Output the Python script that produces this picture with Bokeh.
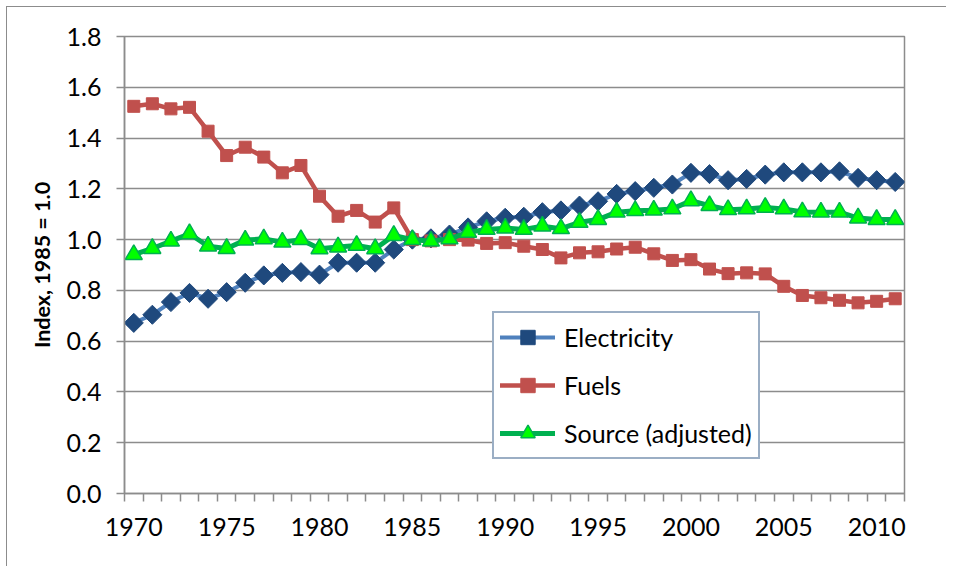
from math import pi
from bokeh.plotting import figure
from bokeh.models import Range1d, FixedTicker, Legend, LegendItem
from bokeh.embed import file_html
from bokeh.resources import INLINE

years = list(range(1970, 2012))

electricity = [0.672, 0.704, 0.754, 0.790, 0.767, 0.793, 0.830, 0.859, 0.869, 0.872,
               0.862, 0.909, 0.909, 0.909, 0.961, 1.000, 1.005, 1.020, 1.048, 1.072,
               1.086, 1.090, 1.108, 1.115, 1.134, 1.151, 1.180, 1.191, 1.204, 1.217,
               1.263, 1.258, 1.234, 1.239, 1.256, 1.265, 1.265, 1.265, 1.269, 1.243,
               1.234, 1.227]

fuels = [1.525, 1.535, 1.515, 1.521, 1.427, 1.331, 1.364, 1.325, 1.263, 1.292,
         1.171, 1.092, 1.115, 1.069, 1.125, 1.000, 0.995, 1.000, 0.998, 0.985,
         0.988, 0.974, 0.961, 0.928, 0.948, 0.952, 0.963, 0.970, 0.944, 0.918,
         0.921, 0.884, 0.866, 0.869, 0.865, 0.816, 0.780, 0.771, 0.761, 0.751,
         0.757, 0.767]

source = [0.941, 0.965, 0.994, 1.023, 0.974, 0.965, 0.998, 1.003, 0.990, 1.000,
          0.964, 0.971, 0.977, 0.964, 1.016, 1.000, 0.994, 1.003, 1.029, 1.040,
          1.045, 1.040, 1.053, 1.043, 1.068, 1.079, 1.108, 1.114, 1.116, 1.121,
          1.153, 1.134, 1.118, 1.121, 1.127, 1.121, 1.109, 1.108, 1.108, 1.085,
          1.079, 1.079]

x_label_years = [1970, 1975, 1980, 1985, 1990, 1995, 2000, 2005, 2010]
y_ticks = [0.0, 0.2, 0.4, 0.6, 0.8, 1.0, 1.2, 1.4, 1.6, 1.8]
y_labels = ["0.0", "0.2", "0.4", "0.6", "0.8", "1.0", "1.2", "1.4", "1.6", "1.8"]

series_names = ["Electricity", "Fuels", "Source (adjusted)"]

FONT = "Lato"
GRID = "#8C8C8C"

p = figure(width=940, height=560, output_backend="svg", toolbar_location=None,
           x_range=Range1d(years[0] - 0.5, years[-1] + 0.5),
           y_range=Range1d(y_ticks[0], y_ticks[-1]),
           min_border_left=117, min_border_right=43, min_border_top=29,
           min_border_bottom=74,
           styles={"margin-left": "6px", "margin-top": "6px",
                   "border-top": "1px solid #8C8C8C", "border-left": "1px solid #8C8C8C"})

p.background_fill_color = "white"
p.border_fill_color = "white"
p.outline_line_color = GRID
p.outline_line_width = 1.5

# x axis: labels at every 5 years, tick marks between categories
p.xaxis.ticker = FixedTicker(ticks=x_label_years,
                             minor_ticks=[y - 0.5 for y in years] + [years[-1] + 0.5])
p.xaxis.major_tick_out = 0
p.xaxis.major_tick_in = 0
p.xaxis.minor_tick_out = 8
p.xaxis.minor_tick_in = 0
p.xaxis.minor_tick_line_color = GRID
p.xaxis.minor_tick_line_width = 1.5
p.xaxis.axis_line_color = GRID
p.xaxis.axis_line_width = 1.5
p.xaxis.major_label_text_font = FONT
p.xaxis.major_label_text_font_size = "25px"
p.xaxis.major_label_text_color = "black"
p.xaxis.major_label_standoff = 16
p.xgrid.grid_line_color = None

p.yaxis.ticker = FixedTicker(ticks=y_ticks)
p.yaxis.major_label_overrides = {t: l for t, l in zip(y_ticks, y_labels)}
p.yaxis.major_tick_out = 8
p.yaxis.major_tick_in = 0
p.yaxis.minor_tick_out = 0
p.yaxis.minor_tick_in = 0
p.yaxis.major_tick_line_color = GRID
p.yaxis.major_tick_line_width = 1.5
p.yaxis.axis_line_color = GRID
p.yaxis.axis_line_width = 1.5
p.yaxis.major_label_text_font = FONT
p.yaxis.major_label_text_font_size = "25px"
p.yaxis.major_label_text_color = "black"
p.yaxis.major_label_standoff = 15
p.yaxis.axis_label = "Index, 1985 = 1.0"
p.yaxis.axis_label_text_font = FONT
p.yaxis.axis_label_text_font_size = "21.5px"
p.yaxis.axis_label_text_font_style = "bold"
p.yaxis.axis_label_text_color = "black"
p.yaxis.axis_label_standoff = 9
p.ygrid.grid_line_color = GRID
p.ygrid.grid_line_width = 1.5

# series
l1 = p.line(years, electricity, line_color="#4F81BD", line_width=4,
            line_join="round", line_cap="round")
m1 = p.scatter(years, electricity, marker="square", angle=pi / 4, size=13.5,
               fill_color="#1F497D", line_color="#1F497D")
l2 = p.line(years, fuels, line_color="#C0504D", line_width=4.5,
            line_join="round", line_cap="round")
m2 = p.scatter(years, fuels, marker="square", size=12,
               fill_color="#C0504D", line_color="#C0504D")
l3 = p.line(years, source, line_color="#00B050", line_width=5,
            line_join="round", line_cap="round")
m3 = p.scatter(years, source, marker="triangle", size=17,
               fill_color="#00FF00", line_color="#00B050", line_width=1.5)

legend = Legend(items=[LegendItem(label=series_names[0], renderers=[l1, m1]),
                       LegendItem(label=series_names[1], renderers=[l2, m2]),
                       LegendItem(label=series_names[2], renderers=[l3, m3])],
                location=(368, 34))
legend.label_text_font = FONT
legend.label_text_font_size = "25px"
legend.label_text_color = "black"
legend.glyph_width = 55
legend.glyph_height = 36
legend.label_height = 36
legend.label_standoff = 9
legend.spacing = 12
legend.padding = 6
legend.margin = 0
legend.border_line_color = "#385D8A"
legend.border_line_width = 2
legend.background_fill_color = "white"
legend.background_fill_alpha = 1.0
p.add_layout(legend, "center")

open("out.html", "w").write(file_html(p, INLINE))
